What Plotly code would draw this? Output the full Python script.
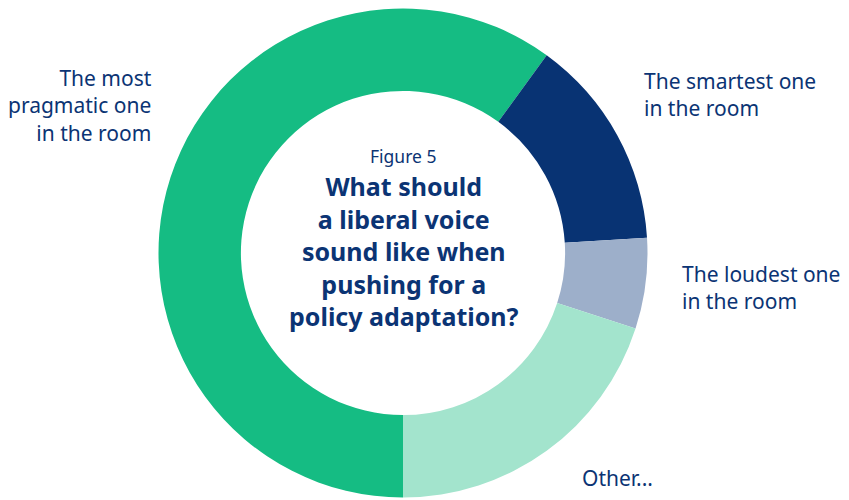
import plotly.graph_objects as go

categories = ["The most pragmatic one in the room", "The smartest one in the room",
              "The loudest one in the room", "Other..."]
values = [60, 14, 6, 20]
colors = ["#15BC83", "#083373", "#9DAFCA", "#A3E4CD"]

label_texts = ["The most<br>pragmatic one<br>in the room",
               "The smartest one<br>in the room",
               "The loudest one<br>in the room",
               "Other..."]

TXT = "#0B3474"
FONT = "Noto Sans"

fig = go.Figure(go.Pie(
    labels=categories, values=values, sort=False, direction="clockwise",
    rotation=180, hole=0.663,
    marker=dict(colors=colors, line=dict(color="white", width=0)),
    textinfo="none", hoverinfo="label+value", showlegend=False,
    domain=dict(x=[158.5/849, 647.5/849], y=[1-497.5/500, 1-8.5/500]),
))

W, H = 849, 500
ann_pos = [  # (x px, y px center, xanchor, align)
    (152, 105.5, "right", "right"),
    (644, 95, "left", "left"),
    (682, 287, "left", "left"),
    (582, 478, "left", "left"),
]
annotations = []
for t, (x, y, xa, al) in zip(label_texts, ann_pos):
    annotations.append(dict(text=t, x=x/W, y=1-y/H, xref="paper", yref="paper",
                            xanchor=xa, yanchor="middle", align=al, showarrow=False,
                            borderpad=0, borderwidth=0,
                            font=dict(family=FONT, size=21, color=TXT)))
annotations.append(dict(text="Figure 5", x=403/W, y=1-156/H, xref="paper", yref="paper",
                        xanchor="center", yanchor="middle", showarrow=False,
                        borderpad=0, borderwidth=0,
                        font=dict(family=FONT, size=17.5, color=TXT)))
annotations.append(dict(text="<b>What should<br>a liberal voice<br>sound like when<br>pushing for a<br>policy adaptation?</b>",
                        x=404/W, y=1-250.5/H, xref="paper", yref="paper",
                        xanchor="center", yanchor="middle", align="center", showarrow=False,
                        borderpad=0, borderwidth=0,
                        font=dict(family=FONT, size=25, color=TXT)))

fig.update_layout(width=W, height=H, margin=dict(l=0, r=0, t=0, b=0),
                  paper_bgcolor="white", plot_bgcolor="white", annotations=annotations)
fig.write_html("out.html")
